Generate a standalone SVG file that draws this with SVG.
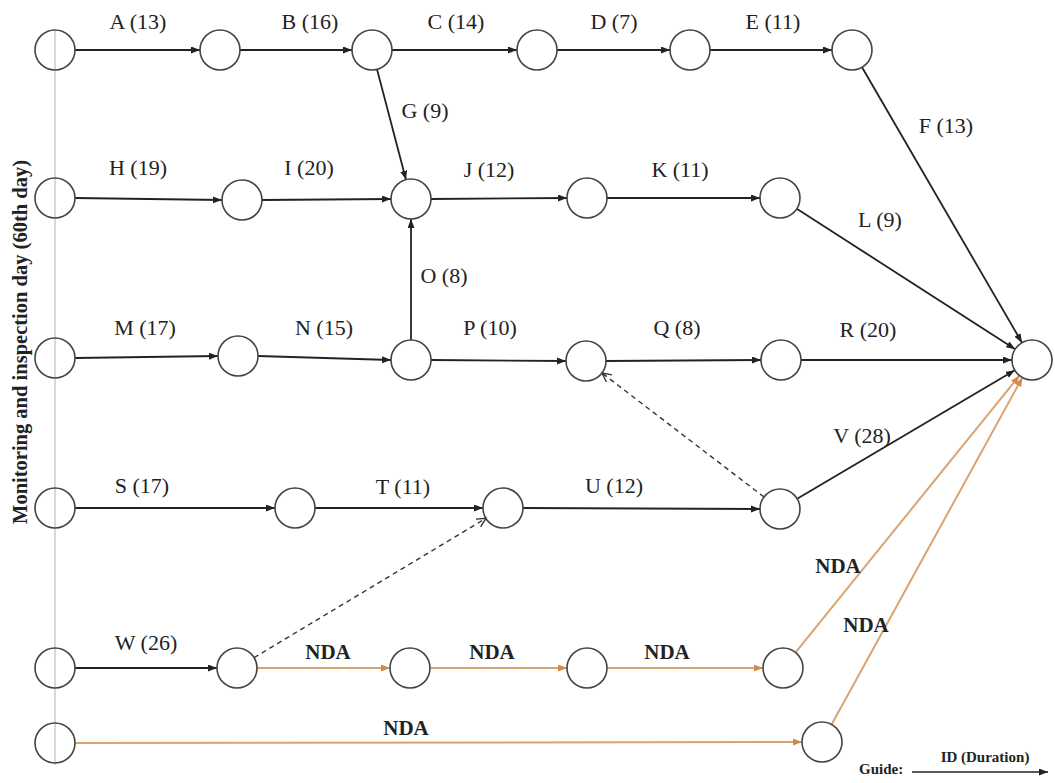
<svg xmlns="http://www.w3.org/2000/svg" width="1055" height="783" viewBox="0 0 1055 783">
<style>
.n{fill:none;stroke:#444;stroke-width:1.6}
.e{stroke:#222;stroke-width:1.8;fill:none;marker-end:url(#ah)}
.d{stroke:#333;stroke-width:1.4;fill:none;stroke-dasharray:5,4;marker-end:url(#oh)}
.o{stroke:#d9a46f;stroke-width:2;fill:none;marker-end:url(#ahO)}
text{font-family:'Times New Roman',Tinos,'Noto Serif','Liberation Serif','DejaVu Serif',FreeSerif,Times,serif;fill:#222;text-anchor:middle}
.l{font-size:22px}
.b{font-size:21px;font-weight:bold}
</style>
<defs>
<marker id="ah" markerUnits="userSpaceOnUse" markerWidth="10" markerHeight="8" refX="9" refY="3.5" orient="auto"><path d="M0,0 L9,3.5 L0,7 z" fill="#222"/></marker>
<marker id="ahO" markerUnits="userSpaceOnUse" markerWidth="10" markerHeight="8" refX="9" refY="3.5" orient="auto"><path d="M0,0 L9,3.5 L0,7 z" fill="#d08a4a"/></marker>
<marker id="oh" markerUnits="userSpaceOnUse" markerWidth="12" markerHeight="12" refX="10" refY="5" orient="auto"><path d="M1,0.5 L10,5 L1,9.5" fill="none" stroke="#333" stroke-width="1.4"/></marker>
</defs>
<rect width="1055" height="783" fill="#fff"/>
<line x1="55" y1="30" x2="55" y2="765" stroke="#cfcfcf" stroke-width="1.6"/>
<text transform="translate(27,342) rotate(-90)" class="b" style="font-size:20.5px">Monitoring and inspection day (60th day)</text>

<g id="connectors">
<line class="e" x1="75" y1="50" x2="200" y2="50"/>
<line class="e" x1="240" y1="50" x2="352" y2="50"/>
<line class="e" x1="392" y1="50" x2="517" y2="50"/>
<line class="e" x1="557" y1="50" x2="670" y2="50"/>
<line class="e" x1="710" y1="50" x2="832" y2="50"/>
<line class="e" x1="862" y1="67.3" x2="1022" y2="342.7"/>
<line class="e" x1="377" y1="69.3" x2="406" y2="179.7"/>
<line class="e" x1="75" y1="198" x2="222" y2="200"/>
<line class="e" x1="262" y1="200" x2="391" y2="199"/>
<line class="e" x1="431" y1="199" x2="567" y2="198"/>
<line class="e" x1="607" y1="198" x2="760" y2="198"/>
<line class="e" x1="796.8" y1="208.8" x2="1015.2" y2="349.2"/>
<line class="e" x1="411" y1="340" x2="411" y2="219"/>
<line class="e" x1="75" y1="358" x2="218" y2="356"/>
<line class="e" x1="258" y1="356" x2="391" y2="360"/>
<line class="e" x1="431" y1="360" x2="566" y2="361"/>
<line class="e" x1="606" y1="361" x2="761" y2="360"/>
<line class="e" x1="801" y1="360" x2="1012" y2="360"/>
<line class="e" x1="797.2" y1="498.8" x2="1014.8" y2="370.2"/>
<line class="d" x1="764" y1="497" x2="602" y2="373"/>
<line class="e" x1="75" y1="508" x2="275" y2="508"/>
<line class="e" x1="315" y1="508" x2="483" y2="508"/>
<line class="e" x1="523" y1="508" x2="760" y2="509"/>
<line class="d" x1="254" y1="657.7" x2="486" y2="518.3"/>
<line class="e" x1="75" y1="668" x2="217" y2="668"/>
<line class="o" x1="257" y1="668" x2="390" y2="668"/>
<line class="o" x1="430" y1="668" x2="567" y2="668"/>
<line class="o" x1="607" y1="668" x2="763" y2="668"/>
<line class="o" x1="795.6" y1="652.4" x2="1019.4" y2="375.6"/>
<line class="o" x1="831.6" y1="724.5" x2="1022.4" y2="377.5"/>
<line class="o" x1="75" y1="743" x2="802" y2="742"/>
</g>

<g id="nodes">
<circle id="n1" class="n" cx="55" cy="50" r="20"/>
<circle id="n2" class="n" cx="220" cy="50" r="20"/>
<circle id="n3" class="n" cx="372" cy="50" r="20"/>
<circle id="n4" class="n" cx="537" cy="50" r="20"/>
<circle id="n5" class="n" cx="690" cy="50" r="20"/>
<circle id="n6" class="n" cx="852" cy="50" r="20"/>
<circle id="n7" class="n" cx="55" cy="198" r="20"/>
<circle id="n8" class="n" cx="242" cy="200" r="20"/>
<circle id="n9" class="n" cx="411" cy="199" r="20"/>
<circle id="n10" class="n" cx="587" cy="198" r="20"/>
<circle id="n11" class="n" cx="780" cy="198" r="20"/>
<circle id="n12" class="n" cx="55" cy="358" r="20"/>
<circle id="n13" class="n" cx="238" cy="356" r="20"/>
<circle id="n14" class="n" cx="411" cy="360" r="20"/>
<circle id="n15" class="n" cx="586" cy="361" r="20"/>
<circle id="n16" class="n" cx="781" cy="360" r="20"/>
<circle id="fin" class="n" cx="1032" cy="360" r="20"/>
<circle id="n17" class="n" cx="55" cy="508" r="20"/>
<circle id="n18" class="n" cx="295" cy="508" r="20"/>
<circle id="n19" class="n" cx="503" cy="508" r="20"/>
<circle id="n20" class="n" cx="780" cy="509" r="20"/>
<circle id="n21" class="n" cx="55" cy="668" r="20"/>
<circle id="n22" class="n" cx="237" cy="668" r="20"/>
<circle id="n23" class="n" cx="410" cy="668" r="20"/>
<circle id="n24" class="n" cx="587" cy="668" r="20"/>
<circle id="n25" class="n" cx="783" cy="668" r="20"/>
<circle id="n26" class="n" cx="55" cy="743" r="20"/>
<circle id="n27" class="n" cx="822" cy="742" r="20"/>
</g>

<g id="labels">
<text class="l" x="138" y="29">A (13)</text>
<text class="l" x="310" y="29">B (16)</text>
<text class="l" x="456" y="29">C (14)</text>
<text class="l" x="614" y="29">D (7)</text>
<text class="l" x="773" y="29">E (11)</text>
<text class="l" x="946" y="133">F (13)</text>
<text class="l" x="425" y="118">G (9)</text>
<text class="l" x="138" y="175">H (19)</text>
<text class="l" x="309" y="175">I (20)</text>
<text class="l" x="489" y="177">J (12)</text>
<text class="l" x="680" y="177">K (11)</text>
<text class="l" x="880" y="227">L (9)</text>
<text class="l" x="444" y="283">O (8)</text>
<text class="l" x="145" y="335">M (17)</text>
<text class="l" x="324" y="335">N (15)</text>
<text class="l" x="490" y="335">P (10)</text>
<text class="l" x="677" y="335">Q (8)</text>
<text class="l" x="868" y="337">R (20)</text>
<text class="l" x="862" y="443">V (28)</text>
<text class="l" x="142" y="493">S (17)</text>
<text class="l" x="403" y="494">T (11)</text>
<text class="l" x="614" y="493">U (12)</text>
<text class="l" x="146" y="650">W (26)</text>
<text class="b" x="328" y="659">NDA</text>
<text class="b" x="492" y="659">NDA</text>
<text class="b" x="667" y="659">NDA</text>
<text class="b" x="406" y="735">NDA</text>
<text class="b" x="838" y="573">NDA</text>
<text class="b" x="866" y="632">NDA</text>
</g>

<g id="guide">
<text x="859" y="774" class="b" style="font-size:15px;text-anchor:start">Guide:</text>
<text x="985" y="762" class="b" style="font-size:15px">ID (Duration)</text>
<line class="e" x1="912" y1="772" x2="1048" y2="772" style="stroke-width:1.6"/>
</g>
</svg>
